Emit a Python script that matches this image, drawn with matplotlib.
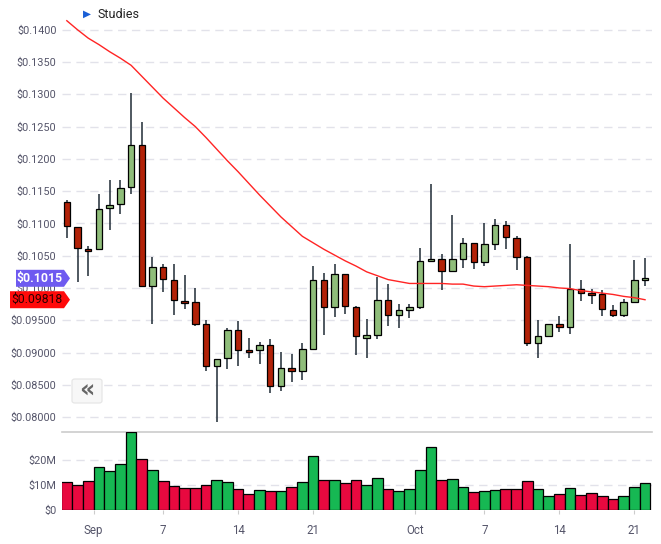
import numpy as np
import matplotlib
matplotlib.use("Agg")
import matplotlib.pyplot as plt
from matplotlib.patches import Polygon, FancyBboxPatch

plt.rcParams['font.family'] = ['Roboto', 'DejaVu Sans']

# OHLC por dia (29 ago - 22 oct)
opens = [0.11327, 0.10950, 0.10599, 0.10599, 0.11234, 0.11296, 0.11559, 0.12210, 0.10026, 0.10320,
         0.10119, 0.09793, 0.09778, 0.09437, 0.08786, 0.08910, 0.09344, 0.09034, 0.09034, 0.09112,
         0.08477, 0.08755, 0.08709, 0.09050, 0.10118, 0.09700, 0.10211, 0.09700, 0.09228, 0.09275,
         0.09817, 0.09584, 0.09662, 0.09708, 0.10421, 0.10452, 0.10266, 0.10452, 0.10700, 0.10405,
         0.10684, 0.10978, 0.10777, 0.10483, 0.09151, 0.09259, 0.09445, 0.09399, 0.09987, 0.09925,
         0.09910, 0.09662, 0.09584, 0.09786, 0.10127]
highs = [0.11363, 0.10950, 0.10650, 0.11456, 0.11673, 0.11673, 0.13020, 0.12566, 0.10480, 0.10372,
         0.10372, 0.10201, 0.10005, 0.09504, 0.08895, 0.09375, 0.09489, 0.09225, 0.09158, 0.09210,
         0.09003, 0.08972, 0.09143, 0.10340, 0.10232, 0.10371, 0.10211, 0.09716, 0.09512, 0.10168,
         0.10065, 0.09755, 0.09755, 0.10622, 0.11603, 0.10529, 0.11123, 0.10777, 0.10700, 0.10999,
         0.11071, 0.11040, 0.10808, 0.10498, 0.09507, 0.09445, 0.09569, 0.10684, 0.10127, 0.09987,
         0.09972, 0.09739, 0.09832, 0.10426, 0.10472]
lows = [0.10769, 0.10098, 0.10191, 0.10599, 0.10903, 0.11141, 0.11451, 0.10026, 0.09437, 0.09933,
        0.09577, 0.09669, 0.09406, 0.08709, 0.07929, 0.08740, 0.08796, 0.08920, 0.08828, 0.08379,
        0.08410, 0.08549, 0.08580, 0.09050, 0.09277, 0.09556, 0.09602, 0.08967, 0.08913, 0.09213,
        0.09414, 0.09383, 0.09533, 0.09677, 0.10405, 0.09972, 0.10266, 0.10307, 0.10292, 0.10338,
        0.10591, 0.10602, 0.10276, 0.09099, 0.08913, 0.09244, 0.09316, 0.09290, 0.09801, 0.09755,
        0.09569, 0.09553, 0.09553, 0.09786, 0.10034]
closes = [0.10955, 0.10614, 0.10573, 0.11218, 0.11280, 0.11544, 0.12210, 0.10026, 0.10320, 0.10134,
          0.09809, 0.09762, 0.09437, 0.08787, 0.08895, 0.09344, 0.09034, 0.09003, 0.09112, 0.08477,
          0.08755, 0.08709, 0.09050, 0.10118, 0.09700, 0.10211, 0.09716, 0.09251, 0.09264, 0.09817,
          0.09584, 0.09662, 0.09708, 0.10421, 0.10452, 0.10266, 0.10452, 0.10700, 0.10405, 0.10684,
          0.10978, 0.10793, 0.10483, 0.09151, 0.09259, 0.09445, 0.09399, 0.09987, 0.09925, 0.09894,
          0.09677, 0.09584, 0.09786, 0.10127, 0.10150]
# volumen en millones de dolares
volumes = [11.2, 9.9, 11.5, 17.1, 15.5, 18.3, 31.1, 20.3, 15.9, 11.5,
           9.5, 8.7, 8.7, 9.9, 11.9, 11.1, 8.3, 6.3, 7.9, 7.5,
           7.5, 9.1, 11.1, 21.5, 11.9, 11.9, 10.8, 11.9, 9.9, 12.7,
           8.3, 7.6, 8.3, 15.9, 25.1, 11.9, 12.3, 9.1, 7.2, 7.6,
           7.9, 8.3, 8.3, 11.5, 8.3, 5.5, 6.3, 8.7, 5.9, 6.7,
           5.5, 4.3, 5.5, 9.1, 10.7]
# media movil (linea roja)
ma = [0.1414, 0.1400, 0.1387, 0.1377, 0.1366, 0.1356, 0.1345, 0.1328, 0.1311, 0.1294,
      0.1279, 0.1264, 0.1250, 0.1233, 0.1215, 0.1197, 0.1180, 0.1162, 0.1144, 0.1127,
      0.1110, 0.1095, 0.1080, 0.1070, 0.1060, 0.1051, 0.1042, 0.1034, 0.1025, 0.1019,
      0.1013, 0.1010, 0.1007, 0.1007, 0.1007, 0.1007, 0.1006, 0.1006, 0.1003, 0.1002,
      0.1003, 0.1004, 0.1005, 0.1004, 0.1003, 0.1002, 0.1000, 0.0999, 0.0996, 0.0994,
      0.0992, 0.0990, 0.0987, 0.0985, 0.09818]

xtick_pos = [2.5, 9, 16, 23, 32.55, 39, 46, 53]
xtick_labels = ['Sep', '7', '14', '21', 'Oct', '7', '14', '21']
price_ticks = np.arange(0.080, 0.1401, 0.005)
vol_ticks = [0, 10, 20]
vol_labels = ['$0', '$10M', '$20M']

W, H = 661, 544
fig = plt.figure(figsize=(W / 100, H / 100), dpi=100)
ax = fig.add_axes([62 / W, (H - 432) / H, 590 / W, 432 / H])
axv = fig.add_axes([62 / W, (H - 510) / H, 590 / W, 78 / H], sharex=ax)

o = np.array(opens); c = np.array(closes)
hi = np.array(highs); lo = np.array(lows)
x = np.arange(len(o))
up = c >= o

tick_col = '#55556a'
grid_col = '#e2e2ea'

# velas
ax.vlines(x, lo, hi, color='#1f2b36', lw=1.1, zorder=2)
body_h = np.maximum(np.abs(c - o), 0.00012)
ax.bar(x, body_h, bottom=np.minimum(o, c), width=0.6,
       color=np.where(up, '#8fbd7a', '#b22208'), edgecolor='black', lw=0.9, zorder=3)
ax.plot(x, ma, color='#ff2424', lw=1.0, zorder=4)

ax.set_xlim(-0.45, 54.65)
ax.set_ylim(0.07769, 0.14461)
ax.set_yticks(price_ticks)
ax.set_yticklabels([f'${v:.4f}' if v >= 0.0999 else f'${v:.5f}' for v in price_ticks])
ax.tick_params(axis='y', length=0, pad=4, labelsize=7.8, labelcolor=tick_col)
ax.tick_params(axis='x', length=0, labelbottom=False)
ax.grid(axis='y', color=grid_col, lw=1, linestyle=(0, (6, 4)))
ax.set_axisbelow(True)
for s in ax.spines.values():
    s.set_visible(False)

# volumen
axv.bar(x, volumes, width=1.0, color=np.where(up, '#16b853', '#e8093f'),
        edgecolor='black', lw=0.9, zorder=3)
axv.set_ylim(0, 31.2)
axv.set_yticks(vol_ticks)
axv.set_yticklabels(vol_labels)
axv.set_xticks(xtick_pos)
axv.set_xticklabels(xtick_labels)
axv.tick_params(axis='y', length=0, pad=4, labelsize=7.8, labelcolor=tick_col)
axv.tick_params(axis='x', length=3, color='#cccccc', pad=7, labelsize=8.3, labelcolor=tick_col)
axv.grid(axis='y', color=grid_col, lw=1, linestyle=(0, (6, 4)))
axv.set_axisbelow(True)
for k, s in axv.spines.items():
    s.set_visible(k == 'top')
axv.spines['top'].set_color('#cccccc')
axv.spines['top'].set_linewidth(1.2)
axv.yaxis.get_gridlines()[0].set_visible(False)

# etiquetas de precio a la izquierda
inv = fig.transFigure.inverted()


def tag(price, x0, text, face, tcolor, weight):
    yc = ax.transData.transform((0, price))[1]
    pts = [(x0, yc - 8.5), (64, yc - 8.5), (70, yc), (64, yc + 8.5), (x0, yc + 8.5)]
    poly = Polygon(inv.transform(pts), closed=True, facecolor=face, edgecolor='none',
                   transform=fig.transFigure, zorder=10)
    fig.add_artist(poly)
    fx, fy = inv.transform(((x0 + 64) / 2, yc))
    fig.text(fx, fy, text, color=tcolor, fontsize=8.8, fontweight=weight,
             ha='center', va='center', zorder=11)


tag(ma[-1], 10, f'${ma[-1]:.5f}', '#ff0a0a', '#2a0000', 'normal')
tag(closes[-1], 16, f'${closes[-1]:.4f}', '#6e5af0', 'white', 'bold')

# "Studies" y boton
fig.text(83 / W, 1 - 14 / H, '\u25B6', color='#1a5fd6', fontsize=7.5,
         family='DejaVu Sans', va='center')
fig.text(98 / W, 1 - 14 / H, 'Studies', color='#222222', fontsize=9, va='center')
btn = FancyBboxPatch((72 / W, (H - 403) / H), 30 / W, 24 / H,
                     boxstyle='round,pad=0,rounding_size=0.004',
                     facecolor='#f7f7f7', edgecolor='#e4e4e4', lw=0.8,
                     transform=fig.transFigure, zorder=10)
fig.add_artist(btn)
fig.text(87 / W, 1 - 391 / H, '\u00AB', color='#666666', fontsize=17, fontweight='bold',
         family='DejaVu Sans', ha='center', va='center', zorder=11)

fig.savefig('out.png', dpi=100)
